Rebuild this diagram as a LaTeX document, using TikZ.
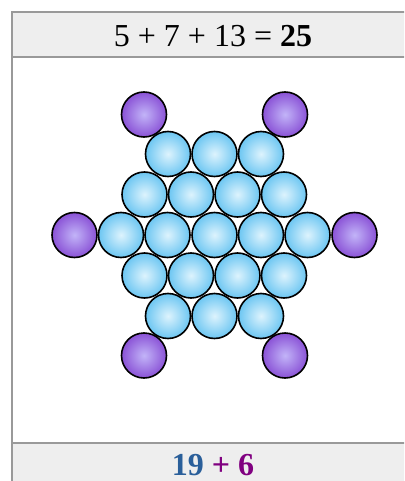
\documentclass[tikz,border=0pt]{standalone}
\usepackage{fontspec}
\setmainfont{Liberation Serif}
\definecolor{framegray}{HTML}{999999}
\definecolor{headfill}{HTML}{EEEEEE}
\definecolor{blueedge}{HTML}{6CC6F2}
\definecolor{bluecenter}{HTML}{DDF3FD}
\definecolor{purpedge}{HTML}{8A52D6}
\definecolor{purpcenter}{HTML}{C2B4F8}
\definecolor{numblue}{HTML}{2A5F9A}
\definecolor{numpurple}{HTML}{800080}
\tikzset{
  ball/.style={circle, draw=black, line width=1.6pt, minimum size=45pt, inner sep=0pt},
  blueball/.style={ball, inner color=bluecenter, outer color=blueedge},
  purpball/.style={ball, inner color=purpcenter, outer color=purpedge},
  panel/.style={fill=headfill, draw=framegray, line width=1.5pt},
}
\begin{document}
\begin{tikzpicture}[x=1pt,y=-1pt]
\useasboundingbox (0,0) rectangle (404,481);
\clip (0,0) rectangle (404,481);
\fill[white] (0,0) rectangle (404,481);
\draw[draw=framegray, line width=1.5pt] (12,12) -- (12,490);
\path[panel] (12,12) rectangle (420,57);
\path[panel] (12,443) rectangle (420,495);
\node[anchor=base, font=\fontsize{32}{36}\selectfont, inner sep=0pt] (title) at (213,46.5) {5 + 7 + 13 = \textbf{25}};
\node[anchor=base, font=\fontsize{32}{36}\selectfont\bfseries, inner sep=0pt] (sum) at (213,475.5) {\textcolor{numblue}{19} \textcolor{numpurple}{+ 6}};
% blue balls
\foreach \i/\x/\y in {1/168/154,2/214.5/154,3/261/154,
  4/144.5/194.5,5/191/194.5,6/237.5/194.5,7/284/194.5,
  8/121/235,9/167.5/235,10/214.5/235,11/261/235,12/307.5/235,
  13/144.5/275.5,14/191/275.5,15/237.5/275.5,16/284/275.5,
  17/168/316,18/214.5/316,19/261/316}{
  \node[blueball] (b\i) at (\x,\y) {};
}
% purple balls
\node[purpball] (p1) at (144,114.5) {};
\node[purpball] (p2) at (285,114.5) {};
\node[purpball] (p3) at (74.5,235) {};
\node[purpball] (p4) at (354.5,235) {};
\node[purpball] (p5) at (144,355.5) {};
\node[purpball] (p6) at (285,355.5) {};
\end{tikzpicture}
\end{document}
